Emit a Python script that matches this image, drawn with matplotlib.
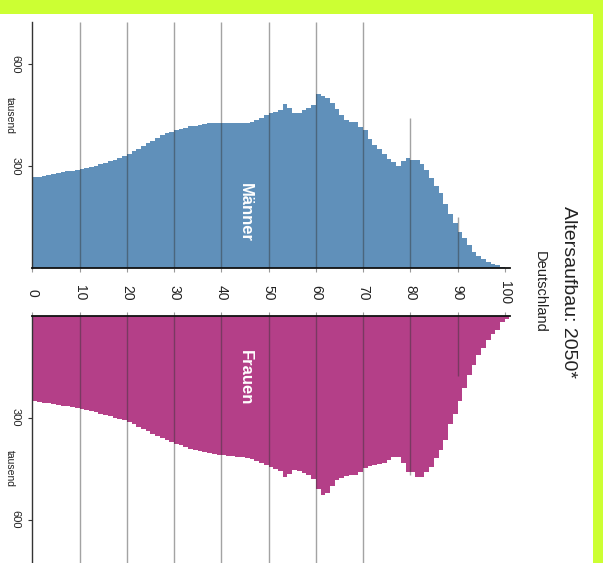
import matplotlib
matplotlib.use("Agg")
import matplotlib.pyplot as plt
from matplotlib.patches import Rectangle
import numpy as np

plt.rcParams['font.family'] = ['Liberation Sans', 'DejaVu Sans']

ages = list(range(0, 101))
maenner = [268, 270, 273, 276, 278, 280, 282, 285, 287, 290,
           292, 295, 298, 302, 306, 311, 316, 320, 325, 330,
           336, 344, 352, 360, 368, 374, 384, 391, 399, 402,
           406, 410, 413, 418, 420, 423, 425, 427, 428, 428,
           428, 428, 428, 428, 429, 429, 431, 436, 441, 450,
           456, 461, 465, 484, 473, 458, 458, 466, 471, 482,
           514, 507, 502, 487, 470, 450, 438, 430, 430, 416,
           408, 381, 364, 351, 337, 322, 312, 300, 315, 326,
           320, 320, 307, 288, 265, 243, 221, 188, 160, 132,
           108, 88, 68, 48, 36, 26, 19, 14, 9, 4, 2]
frauen = [251, 253, 256, 258, 260, 262, 265, 267, 269, 271,
          274, 277, 280, 284, 288, 292, 296, 300, 304, 308,
          313, 320, 327, 334, 340, 347, 354, 361, 367, 372,
          377, 382, 387, 391, 395, 398, 401, 404, 407, 409,
          411, 413, 414, 415, 417, 419, 423, 428, 433, 439,
          445, 452, 458, 475, 466, 455, 456, 464, 470, 482,
          510, 528, 522, 500, 485, 478, 472, 470, 468, 460,
          448, 442, 440, 438, 435, 426, 415, 415, 435, 461,
          461, 476, 476, 461, 444, 420, 394, 365, 318, 289,
          251, 213, 175, 146, 117, 96, 73, 55, 41, 20, 10]

age_ticks = list(range(0, 101, 10))
age_labels = [str(a) for a in age_ticks]
pop_ticks = [300, 600]
pop_labels = ["300", "600"]
grid_ages = [10, 20, 30, 40, 50, 60, 70, 80, 90]
grid_top_m = [725, 725, 725, 725, 725, 725, 725, 443, 151]
grid_top_f = [728, 728, 728, 728, 728, 728, 728, 469, 178]

title = "Altersaufbau: 2050*"
subtitle = "Deutschland"

c_m = "#6090ba"
c_f = "#b43f88"

W, H = 603, 563
fig = plt.figure(figsize=(W / 100, H / 100), dpi=100, facecolor="#ccff33")
fig.patches.append(Rectangle((0, 0), 593 / W, (H - 13.5) / H, transform=fig.transFigure,
                             facecolor="white", edgecolor="none", zorder=-10))

left = 32.3 / W
width = 477.2 / W
ax_m = fig.add_axes([left, (H - 268.3) / H, width, (268.3 - 22) / H])
ax_f = fig.add_axes([left, 0.0, width, (H - 315.7) / H])
for ax in (ax_m, ax_f):
    ax.set_facecolor("none")

ax_m.bar(ages, maenner, width=1.0, align="edge", color=c_m, linewidth=0, zorder=1)
ax_f.bar(ages, frauen, width=1.0, align="edge", color=c_f, linewidth=0, zorder=1)

ax_m.vlines(grid_ages, 0, grid_top_m, colors="#333333", alpha=0.45, linewidth=1.0, zorder=2)
ax_f.vlines(grid_ages, 0, grid_top_f, colors="#333333", alpha=0.45, linewidth=1.0, zorder=2)

ax_m.set_xlim(0, 101)
ax_f.set_xlim(0, 101)
ax_m.set_ylim(0, 725)
ax_f.set_ylim(728, 0)

for ax in (ax_m, ax_f):
    ax.spines["right"].set_visible(False)
    ax.spines["left"].set_color("#333333")
    ax.spines["left"].set_linewidth(1.0)
    ax.set_yticks(pop_ticks)
    ax.set_yticklabels(pop_labels, rotation=-90, ha="center", va="center",
                       fontsize=8, color="#222222")
    ax.tick_params(axis="y", direction="out", length=3, width=0.8, color="#333333", pad=9)
    ax.set_ylabel("tausend", rotation=-90, fontsize=7.5, color="#222222")
    ax.yaxis.set_label_coords(-27 / 477.2, 450 / 725 if ax is ax_m else 1 - 450 / 728)
    ax.set_xticks(age_ticks)

ax_m.spines["top"].set_visible(False)
ax_m.spines["bottom"].set_color("#111111")
ax_m.spines["bottom"].set_linewidth(1.3)
ax_f.spines["bottom"].set_visible(False)
ax_f.spines["top"].set_color("#111111")
ax_f.spines["top"].set_linewidth(1.3)

ax_m.set_xticklabels(age_labels, rotation=-90, ha="center", va="center",
                     fontsize=10, color="#222222")
ax_m.tick_params(axis="x", direction="out", length=3, width=0.8, color="#999999", pad=14.5)
ax_f.xaxis.tick_top()
ax_f.set_xticklabels([])
ax_f.tick_params(axis="x", direction="out", length=3, width=0.8, color="#999999")

ax_m.text(45, 165, "Männer", rotation=-90, ha="center", va="center",
          fontsize=12, fontweight="bold", color="white", zorder=3)
ax_f.text(45, 182, "Frauen", rotation=-90, ha="center", va="center",
          fontsize=12, fontweight="bold", color="white", zorder=3)

fig.text(568 / W, 1 - 292 / H, title, rotation=-90, ha="center", va="center",
         fontsize=14, color="#222222")
fig.text(540 / W, 1 - 292 / H, subtitle, rotation=-90, ha="center", va="center",
         fontsize=10.5, color="#222222")

fig.savefig("out.png", dpi=100, facecolor=fig.get_facecolor())
